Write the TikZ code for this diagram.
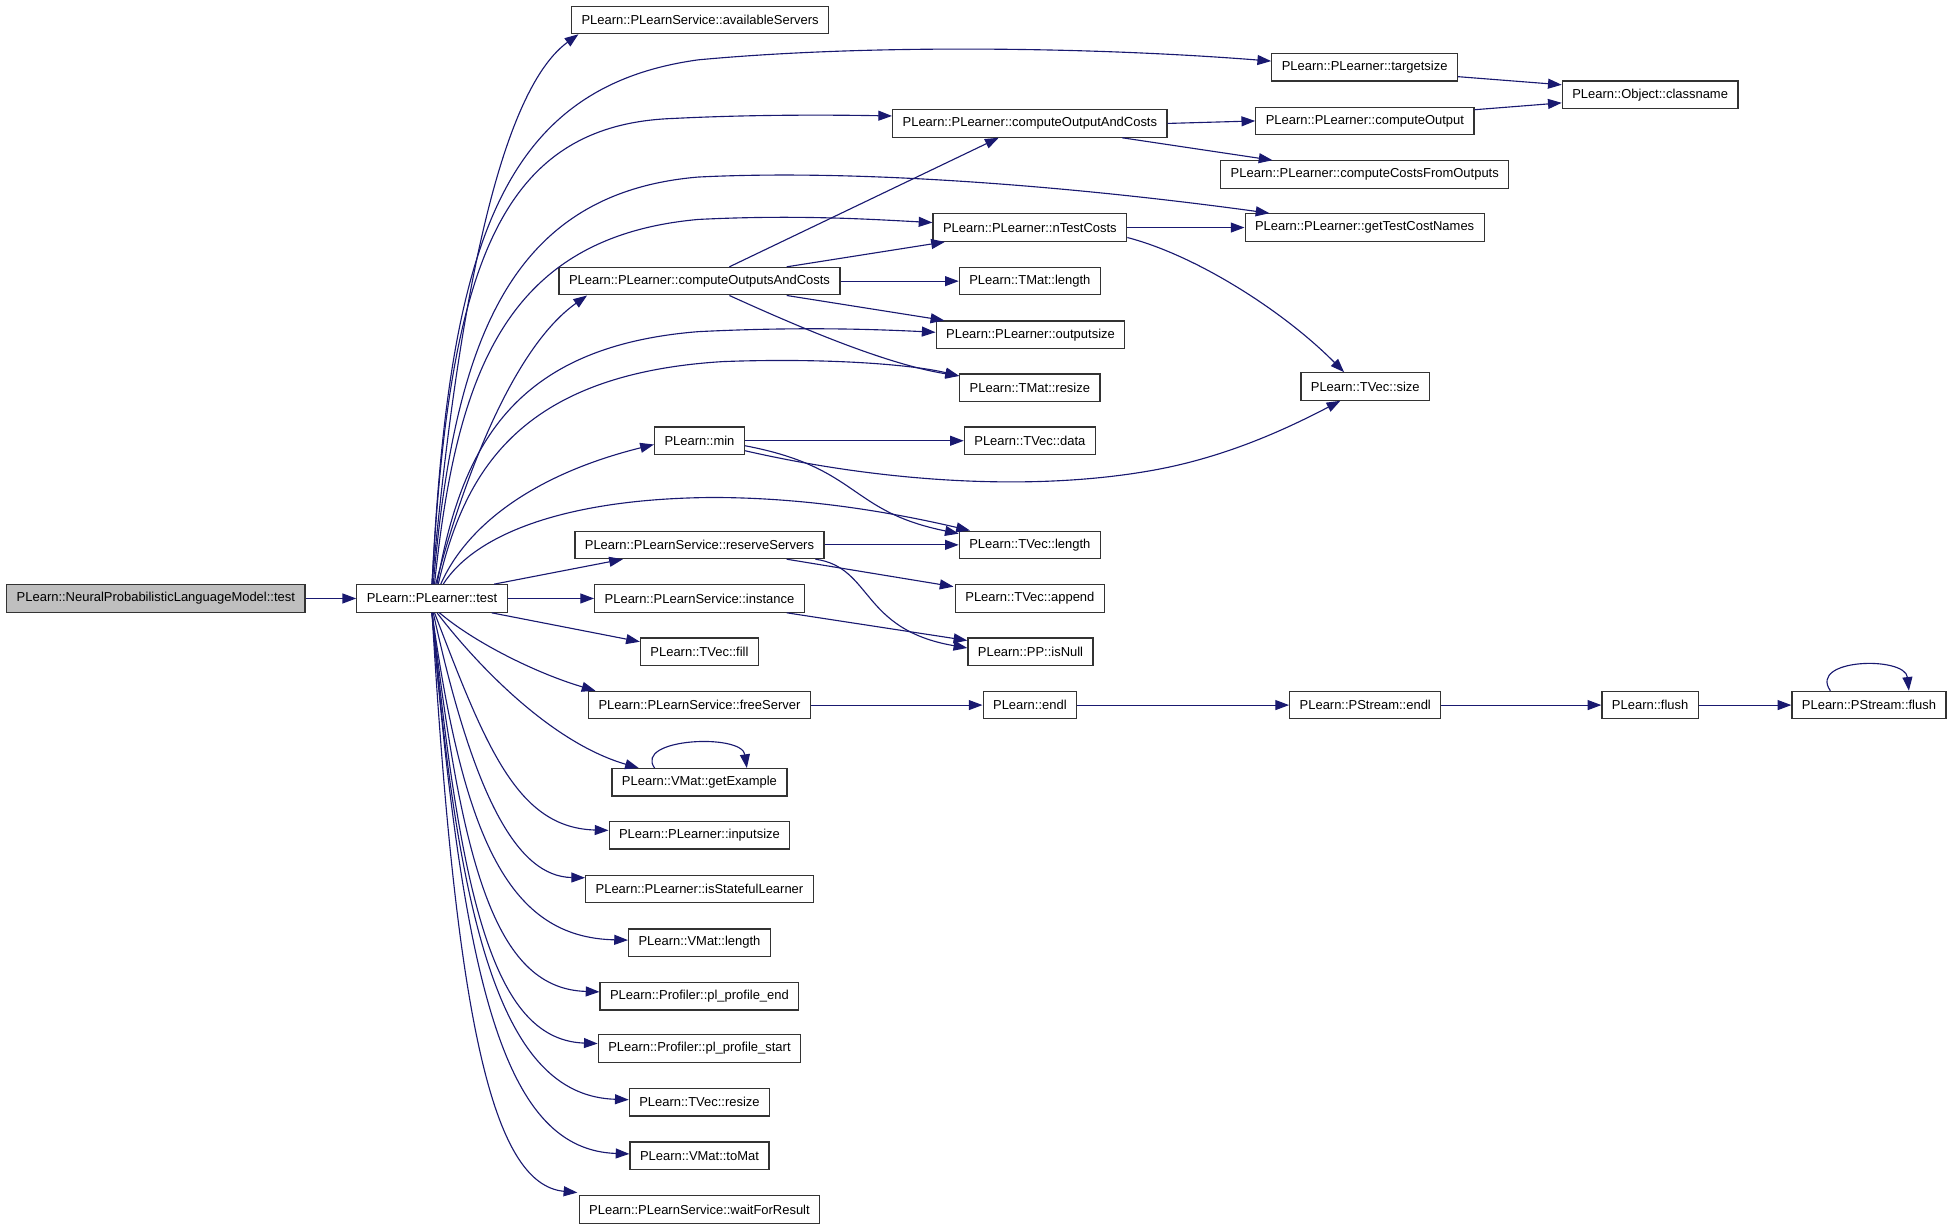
\documentclass[tikz,border=0pt]{standalone}
\usepackage{fontspec}
\setmainfont{Liberation Sans}
\usetikzlibrary{arrows.meta,calc}
\definecolor{edgec}{RGB}{25,25,112}
\begin{document}
\begin{tikzpicture}[x=1pt,y=-1pt,
  box/.style={draw=black!80, line width=1pt, fill=white, rectangle, minimum height=22pt,
    inner xsep=8pt, inner ysep=0pt, font=\fontsize{10.4pt}{12pt}\selectfont, text=black},
  edge/.style={draw=edgec, line width=0.9pt, -{Triangle[length=11pt,width=8pt]}}]
\useasboundingbox (0,0) rectangle (1568,985);
% column 0/1
\node[box, fill=gray!50] (n0) at (125,480) {PLearn::NeuralProbabilisticLanguageModel::test};
\node[box] (test) at (346.5,480) {PLearn::PLearner::test};
% column 2
\node[box] (avs) at (561.5,16) {PLearn::PLearnService::availableServers};
\node[box] (cosac) at (561,225.5) {PLearn::PLearner::computeOutputsAndCosts};
\node[box] (min) at (561,353.5) {PLearn::min};
\node[box] (rs) at (561,437) {PLearn::PLearnService::reserveServers};
\node[box] (inst) at (561,480) {PLearn::PLearnService::instance};
\node[box] (fill) at (561,522.7) {PLearn::TVec::fill};
\node[box] (fs) at (561,565.5) {PLearn::PLearnService::freeServer};
\node[box] (gex) at (561,627.5) {PLearn::VMat::getExample};
\node[box] (ins) at (561,670) {PLearn::PLearner::inputsize};
\node[box] (isl) at (561,713) {PLearn::PLearner::isStatefulLearner};
\node[box] (vml) at (561,756) {PLearn::VMat::length};
\node[box] (ppe) at (561,799) {PLearn::Profiler::pl\_profile\_end};
\node[box] (pps) at (561,841) {PLearn::Profiler::pl\_profile\_start};
\node[box] (tvr) at (561,884) {PLearn::TVec::resize};
\node[box] (tom) at (561,927) {PLearn::VMat::toMat};
\node[box] (wfr) at (561,970) {PLearn::PLearnService::waitForResult};
% column 3
\node[box] (coac) at (826,99) {PLearn::PLearner::computeOutputAndCosts};
\node[box] (ntc) at (826,182.5) {PLearn::PLearner::nTestCosts};
\node[box] (tml) at (826,225.5) {PLearn::TMat::length};
\node[box] (outs) at (826.5,268.5) {PLearn::PLearner::outputsize};
\node[box] (tmr) at (826,311) {PLearn::TMat::resize};
\node[box] (tvd) at (826,353.5) {PLearn::TVec::data};
\node[box] (tvl) at (826,437) {PLearn::TVec::length};
\node[box] (tva) at (826,480) {PLearn::TVec::append};
\node[box] (isn) at (826.5,522.7) {PLearn::PP::isNull};
\node[box] (endl) at (826,565.5) {PLearn::endl};
% column 4
\node[box] (tgt) at (1094.5,54) {PLearn::PLearner::targetsize};
\node[box] (co) at (1094.7,97) {PLearn::PLearner::computeOutput};
\node[box] (ccfo) at (1094.6,140) {PLearn::PLearner::computeCostsFromOutputs};
\node[box] (gtcn) at (1094.5,182.5) {PLearn::PLearner::getTestCostNames};
\node[box] (tvs) at (1095,310) {PLearn::TVec::size};
\node[box] (pse) at (1095,565.5) {PLearn::PStream::endl};
% column 5/6
\node[box] (cls) at (1323.5,76) {PLearn::Object::classname};
\node[box] (flush) at (1323.5,565.5) {PLearn::flush};
\node[box] (psf) at (1499,565.5) {PLearn::PStream::flush};

% edges
\draw[edge] (n0.east) -- (test.west);
% upward from test
\draw[edge] (test.north) .. controls (362,300) and (392,80) .. ($(avs.south west)+(6,0)$);
\draw[edge] (test.north) .. controls (360,200) and (400,70) .. (560,48) .. controls (700,35) and (880,38) .. ($(tgt.west)+(0,-5)$);
\draw[edge] (test.north) .. controls (360,215) and (400,100) .. (540,95) .. controls (600,92) and (660,92) .. ($(coac.west)+(0,-6)$);
\draw[edge] ($(test.north)+(1,0)$) .. controls (364,280) and (405,155) .. (560,142) .. controls (700,135) and (880,152) .. ($(gtcn.north west)+(20,0)$);
\draw[edge] ($(test.north)+(2,0)$) .. controls (366,300) and (405,190) .. (560,176) .. controls (640,172) and (700,176) .. ($(ntc.west)+(0,-4)$);
\draw[edge] ($(test.north)+(3,0)$) .. controls (370,390) and (410,280) .. ($(cosac.south west)+(23,0)$);
\draw[edge] ($(test.north)+(4,0)$) .. controls (370,360) and (410,278) .. (560,266) .. controls (640,262) and (700,264) .. ($(outs.west)+(0,-2)$);
\draw[edge] ($(test.north)+(5,0)$) .. controls (372,380) and (415,300) .. (580,290) .. controls (660,287) and (730,292) .. ($(tmr.north west)+(0,2)$);
\draw[edge] ($(test.north)+(7,0)$) .. controls (375,420) and (430,380) .. ($(min.west)+(0,3)$);
\draw[edge] ($(test.north)+(9,0)$) .. controls (380,430) and (450,400) .. (571,399) .. controls (650,399) and (720,412) .. ($(tvl.north west)+(9,0)$);
\draw[edge] ($(test.north east)+(-11,0)$) -- ($(rs.south west)+(39,0)$);
\draw[edge] (test.east) -- (inst.west);
\draw[edge] ($(test.south east)+(-13,0)$) -- ($(fill.west)+(0,-8)$);
% downward from test
\draw[edge] ($(test.south)+(6,0)$) .. controls (380,515) and (430,540) .. ($(fs.north west)+(6,0)$);
\draw[edge] ($(test.south)+(4,0)$) .. controls (380,530) and (440,595) .. ($(gex.north west)+(22,0)$);
\draw[edge] ($(test.south)+(2,0)$) .. controls (390,600) and (415,664) .. ($(ins.west)+(0,-4)$);
\draw[edge] ($(test.south)+(1,0)$) .. controls (380,640) and (415,703) .. ($(isl.west)+(0,-9)$);
\draw[edge] (test.south) .. controls (372,675) and (409,752) .. ($(vml.west)+(0,-2)$);
\draw[edge] (test.south) .. controls (371,704) and (400,793) .. ($(ppe.west)+(0,-3.5)$);
\draw[edge] (test.south) .. controls (370,733) and (399,834) .. ($(pps.west)+(0,-4)$);
\draw[edge] (test.south) .. controls (369,765) and (409,879) .. ($(tvr.west)+(0,-2)$);
\draw[edge] (test.south) .. controls (372,800) and (407,922) .. ($(tom.west)+(0,-1.5)$);
\draw[edge] (test.south) .. controls (366,820) and (395,950) .. ($(wfr.north west)+(-1,-2)$);
% column 2 -> 3
\draw[edge] ($(cosac.north)+(24,0)$) -- ($(coac.south)+(-25,0)$);
\draw[edge] ($(cosac.north)+(70,0)$) -- ($(ntc.south west)+(10,0)$);
\draw[edge] (cosac.east) -- (tml.west);
\draw[edge] ($(cosac.south)+(70,0)$) -- ($(outs.north west)+(7,0)$);
\draw[edge] ($(cosac.south)+(24,0)$) .. controls (640,262) and (710,292) .. ($(tmr.north west)+(0,2)$);
\draw[edge] (min.east) -- (tvd.west);
\draw[edge] ($(min.east)+(0,4)$) .. controls (690,375) and (680,410) .. ($(tvl.west)+(0,-9)$);
\draw[edge] ($(min.east)+(0,8)$) .. controls (700,385) and (820,395) .. (920,378) .. controls (980,368) and (1030,345) .. ($(tvs.south)+(-20,0)$);
\draw[edge] (rs.east) -- (tvl.west);
\draw[edge] ($(rs.south)+(70,0)$) -- ($(tva.north west)+(-1,2)$);
\draw[edge] ($(rs.south)+(93,0)$) .. controls (700,455) and (690,505) .. ($(isn.west)+(0,-3)$);
\draw[edge] ($(inst.south)+(70,0)$) -- ($(isn.west)+(0,-9)$);
\draw[edge] (fs.east) -- (endl.west);
% column 3 -> 4
\draw[edge] (coac.east) -- (co.west);
\draw[edge] ($(coac.south)+(74,0)$) -- ($(ccfo.north west)+(42,0)$);
\draw[edge] (ntc.east) -- (gtcn.west);
\draw[edge] ($(ntc.east)+(0,8)$) .. controls (960,205) and (1030,250) .. ($(tvs.north)+(-17,0)$);
\draw[edge] (endl.east) -- (pse.west);
% column 4 -> 5 -> 6
\draw[edge] ($(co.east)+(0,-9)$) -- ($(cls.west)+(0,6.5)$);
\draw[edge] ($(tgt.east)+(0,7.5)$) -- ($(cls.west)+(0,-8)$);
\draw[edge] (pse.east) -- (flush.west);
\draw[edge] (flush.east) -- (psf.west);
% self loops
\draw[edge] ($(gex.north)+(-36,0)$) .. controls (508,592) and (595,588) .. ($(gex.north)+(38,0)$);
\draw[edge] ($(psf.north)+(-31,0)$) .. controls (1450,528) and (1528,526) .. ($(psf.north)+(32,0)$);
\end{tikzpicture}
\end{document}
